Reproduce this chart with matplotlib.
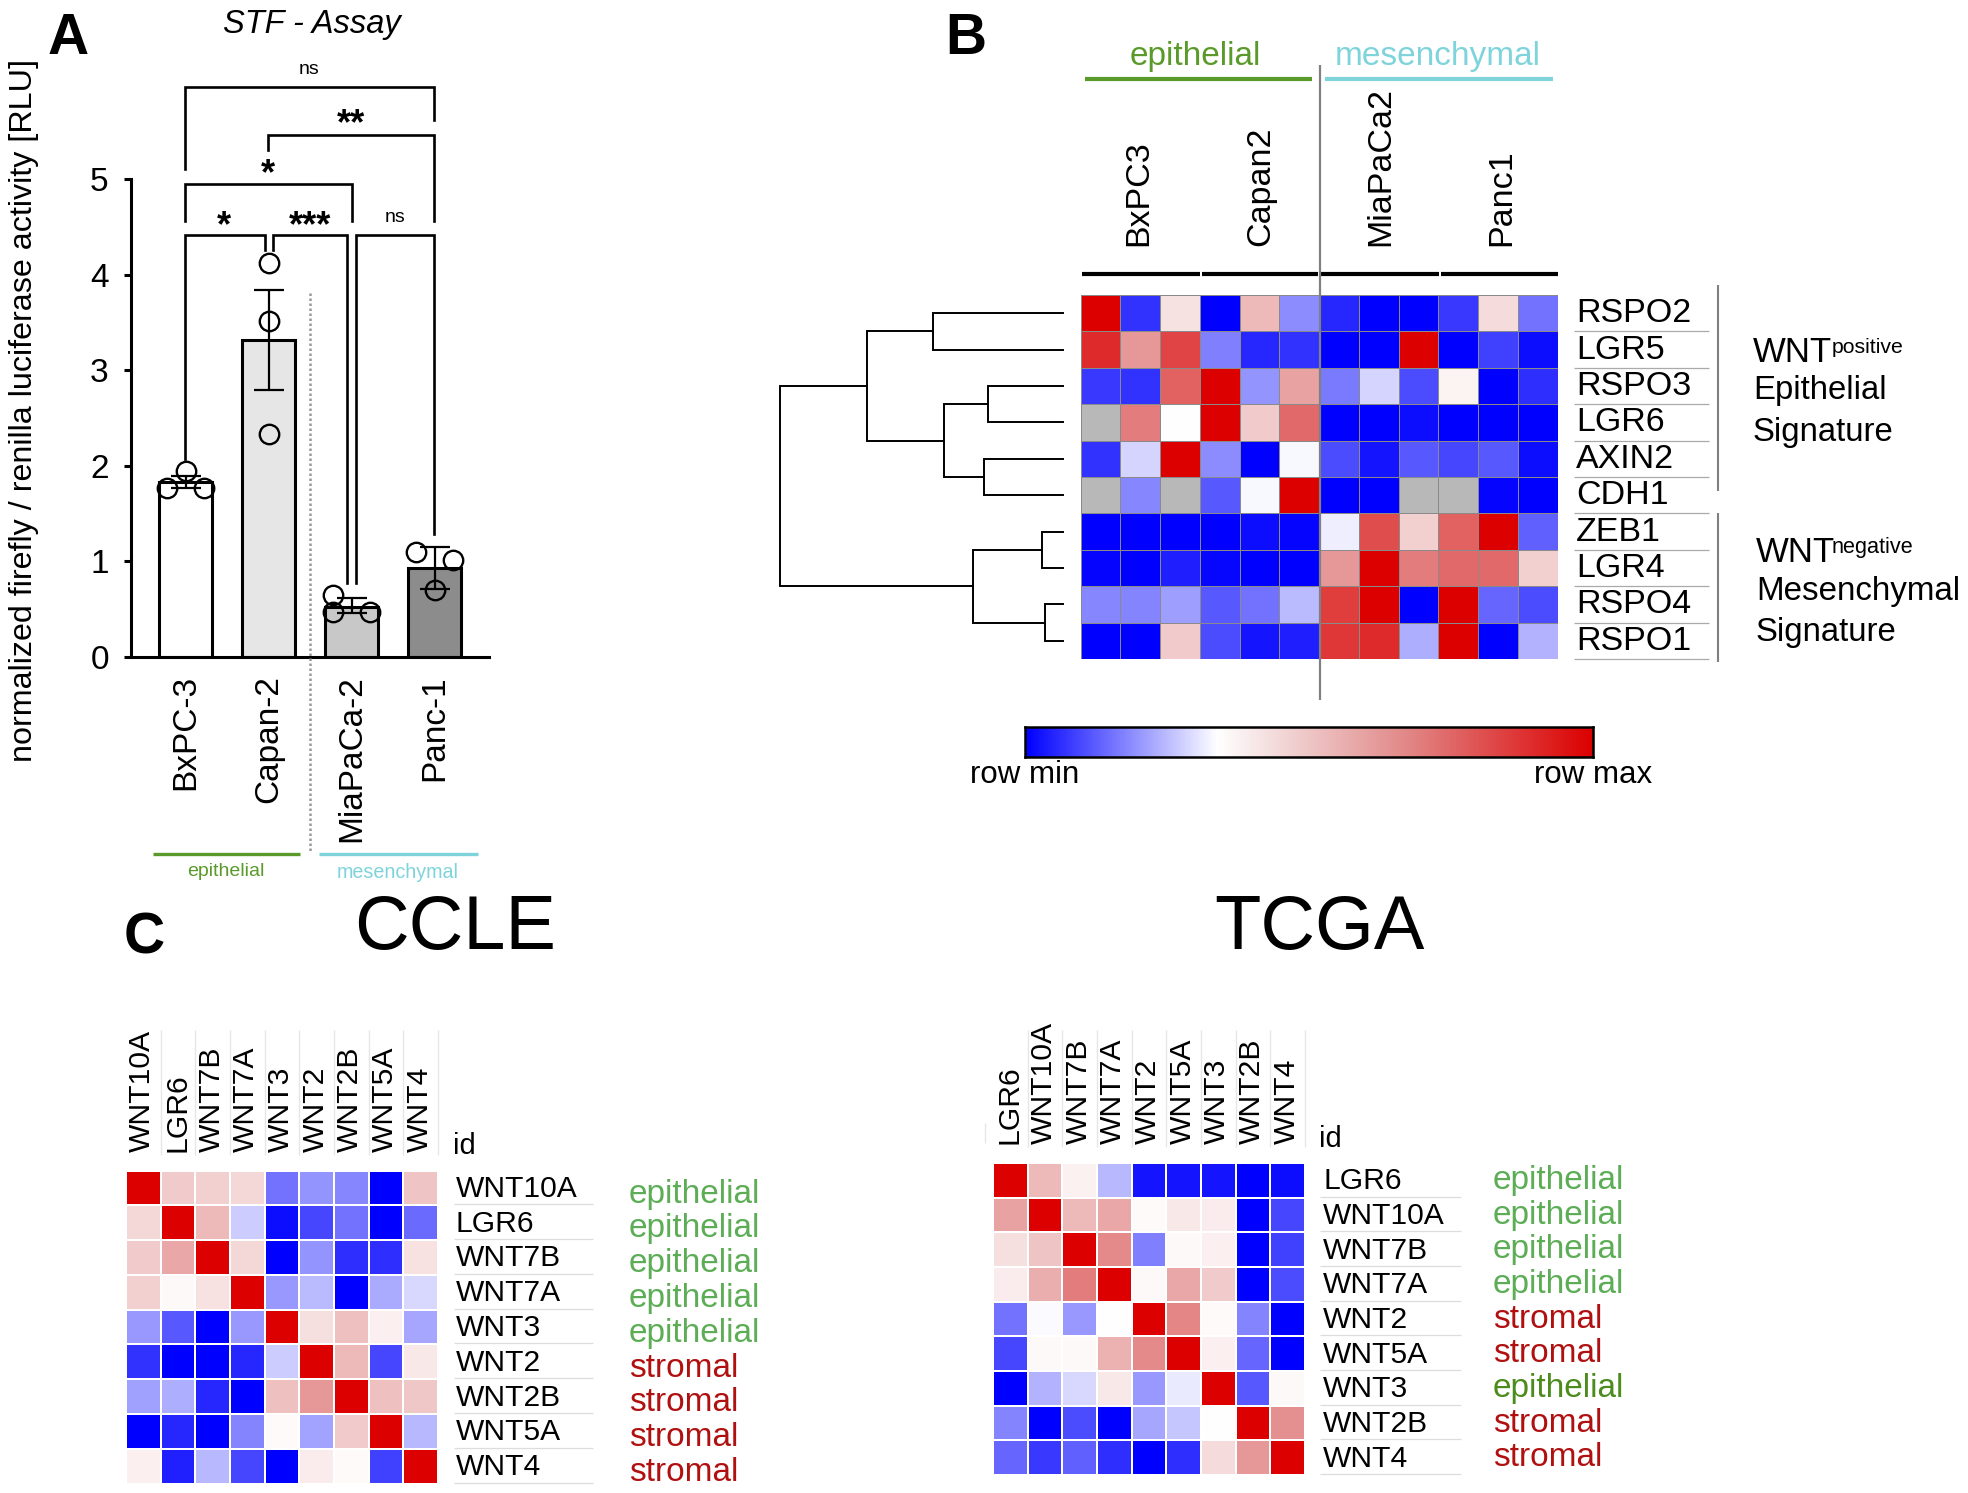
import numpy as np
import matplotlib
matplotlib.use('Agg')
import matplotlib.pyplot as plt
from matplotlib.colors import LinearSegmentedColormap

plt.rcParams['font.family'] = ['Liberation Sans', 'DejaVu Sans']

W, H = 1968, 1493

# Panel A values
cells = ['BxPC-3', 'Capan-2', 'MiaPaCa-2', 'Panc-1']
bar_means = [1.83, 3.32, 0.52, 0.93]
bar_low = [1.77, 2.79, 0.46, 0.71]
bar_high = [1.89, 3.84, 0.62, 1.15]
bar_colors = ['white', '#e6e6e6', '#c8c8c8', '#8c8c8c']
points_x = [[-0.22, 0, 0.22], [0, 0, 0], [-0.22, -0.22, 0.22], [-0.22, 0, 0.22]]
points_y = [[1.77, 1.95, 1.77], [4.12, 3.51, 2.33], [0.65, 0.47, 0.47], [1.10, 0.70, 1.01]]

# Panel B values, -1 is row min, 1 is row max
b_rows = ['RSPO2', 'LGR5', 'RSPO3', 'LGR6', 'AXIN2', 'CDH1', 'ZEB1', 'LGR4', 'RSPO4', 'RSPO1']
b_cols = ['BxPC3', 'Capan2', 'MiaPaCa2', 'Panc1']
nan = np.nan
b_vals = [
    [1, -.8, .12, -1, .3, -.45, -.85, -1, -1, -.78, .15, -.55],
    [.85, .45, .75, -.5, -.85, -.8, -1, -1, 1, -1, -.75, -.95],
    [-.78, -.8, .65, 1, -.42, .4, -.52, -.17, -.7, .05, -1, -.82],
    [nan, .55, 0, 1, .22, .62, -1, -1, -.95, -1, -1, -1],
    [-.8, -.17, 1, -.45, -1, -.03, -.7, -.92, -.65, -.72, -.65, -.95],
    [nan, -.47, nan, -.65, -.03, 1, -1, -1, nan, nan, -.98, -1],
    [-1, -1, -1, -1, -.95, -.98, -.07, .72, .2, .65, 1, -.62],
    [-.98, -1, -.88, -.97, -1, -1, .45, 1, .55, .62, .62, .2],
    [-.47, -.48, -.38, -.65, -.55, -.27, .78, 1, -1, 1, -.6, -.7],
    [-1, -1, .22, -.7, -.92, -.88, .8, .85, -.32, 1, -1, -.3],
]
# dendrogram merges: node a, node b, height. nodes 0-9 are the rows, 10+ are the merges
b_merges = [(0, 1, 130), (2, 3, 75), (4, 5, 79), (11, 12, 119), (10, 13, 196),
            (6, 7, 21), (8, 9, 18), (15, 16, 90), (14, 17, 283)]

# Panel C values
ccle_genes = ['WNT10A', 'LGR6', 'WNT7B', 'WNT7A', 'WNT3', 'WNT2', 'WNT2B', 'WNT5A', 'WNT4']
ccle_types = ['epithelial'] * 5 + ['stromal'] * 4
ccle_vals = [
    [1, .22, .2, .17, -.55, -.42, -.47, -1, .25],
    [.17, 1, .3, -.2, -.95, -.72, -.55, -1, -.58],
    [.22, .38, 1, .17, -1, -.42, -.82, -.82, .13],
    [.2, .03, .13, 1, -.4, -.27, -1, -.33, -.15],
    [-.4, -.65, -1, -.4, 1, .14, .27, .07, -.35],
    [-.8, -1, -1, -.85, -.2, 1, .3, -.72, .1],
    [-.37, -.32, -.85, -1, .27, .45, 1, .27, .24],
    [-1, -.85, -1, -.48, .02, -.36, .22, 1, -.28],
    [.07, -.87, -.28, -.72, -1, .08, .02, -.75, 1],
]
tcga_genes = ['LGR6', 'WNT10A', 'WNT7B', 'WNT7A', 'WNT2', 'WNT5A', 'WNT3', 'WNT2B', 'WNT4']
tcga_types = ['epithelial'] * 4 + ['stromal'] * 2 + ['epithelial'] + ['stromal'] * 2
tcga_vals = [
    [1, .3, .06, -.28, -.92, -.92, -.92, -1, -.95],
    [.4, 1, .3, .38, .02, .1, .08, -1, -.72],
    [.14, .25, 1, .5, -.5, .03, .07, -1, -.75],
    [.08, .35, .55, 1, .03, .38, .22, -1, -.7],
    [-.55, -.02, -.4, 0, 1, .52, .02, -.48, -1],
    [-.72, .03, .03, .33, .5, 1, .07, -.6, -1],
    [-1, -.3, -.15, .1, -.4, -.08, 1, -.65, .03],
    [-.48, -1, -.7, -1, -.35, -.22, 0, 1, .48],
    [-.6, -.78, -.62, -.82, -1, -.82, .15, .45, 1],
]

GREEN = '#5a9a2a'
CYAN = '#7fd4dc'
LIGHT_GREEN = '#5cad55'
DARK_RED = '#b01010'

# the pinks in the figure are a bit duller than a straight white to red ramp
heat = LinearSegmentedColormap.from_list('heat', [(0, '#0000ff'), (0.5, '#ffffff'), (0.6, '#f2d0d0'),
                                                  (0.75, '#e48c8c'), (1, '#dc0000')])
heat.set_bad('#b8b8b8')
heat_bar = LinearSegmentedColormap.from_list('heat_bar', [(0, '#0000ff'), (0.338, '#ffffff'), (0.47, '#f0d0d0'),
                                                          (0.67, '#e28888'), (1, '#dc0000')])

fig = plt.figure(figsize=(W / 100, H / 100), dpi=100)


def px_axes(x0, y0, x1, y1):
    return fig.add_axes([x0 / W, 1 - y1 / H, (x1 - x0) / W, (y1 - y0) / H])


# overlay in picture pixels for labels, brackets and rules
ov = fig.add_axes([0, 0, 1, 1], zorder=5)
ov.set_xlim(0, W)
ov.set_ylim(H, 0)
ov.axis('off')
ov.patch.set_alpha(0)


def rule(x0, y0, x1, y1, color='black', lw=1.0, **kw):
    ov.plot([x0, x1], [y0, y1], color=color, lw=lw, solid_capstyle='butt', **kw)


# ---- Panel A
ax = px_axes(131, 179, 489, 657)
xpos = np.arange(len(cells))
ax.bar(xpos, bar_means, 0.64, color=bar_colors, edgecolor='black', linewidth=2.2)
yerr = [np.array(bar_means) - np.array(bar_low), np.array(bar_high) - np.array(bar_means)]
ax.errorbar(xpos, bar_means, yerr=yerr, fmt='none', ecolor='black', elinewidth=1.6, capsize=10.5, capthick=1.6)
for i in xpos:
    ax.plot(i + np.array(points_x[i]), points_y[i], 'o', mfc='none', mec='black', ms=14, mew=1.7, clip_on=False)
ax.set_xlim(-0.657, 3.656)
ax.set_ylim(0, 5)
ax.spines['top'].set_visible(False)
ax.spines['right'].set_visible(False)
ax.spines['left'].set_linewidth(2.2)
ax.spines['bottom'].set_linewidth(2.2)
ax.set_yticks(range(6))
ax.tick_params(axis='y', labelsize=24, length=5, width=2.2, pad=11)
ax.set_xticks(xpos)
ax.set_xticklabels(cells, rotation=90, fontsize=24)
ax.tick_params(axis='x', length=0, pad=13)

brackets = [
    # x0, drop0, x1, drop1, y
    (185, 169, 434, 120, 87),
    (268, 150, 434, 221, 135),
    (185, 221, 352, 221, 184),
    (185, 459, 265, 250, 235),
    (273, 250, 347, 583, 235),
    (356, 583, 434, 534, 235),
]
for x0, d0, x1, d1, y in brackets:
    ov.plot([x0, x0, x1, x1], [d0, y, y, d1], color='black', lw=1.9, solid_joinstyle='miter')

for x, y, s in [(351, 125, '**'), (268, 175, '*'), (224, 227, '*'), (310, 227, '***')]:
    ov.text(x, y, s, ha='center', va='center', fontsize=26, fontweight='bold')
for x, y, s in [(309, 70, 'ns'), (395, 217, 'ns')]:
    ov.text(x, y, s, ha='center', va='center', fontsize=14)

rule(310, 293, 310, 852, color='#999999', lw=1.8, ls=(0, (1, 1)))
rule(153, 853.5, 300, 853.5, color=GREEN, lw=2.4)
rule(319, 853.5, 478, 853.5, color=CYAN, lw=2.4)
ov.text(226, 872, 'epithelial', color=GREEN, ha='center', va='center', fontsize=14)
ov.text(398, 872, 'mesenchymal', color=CYAN, ha='center', va='center', fontsize=14.2)
ov.text(312, 24, 'STF - Assay', style='italic', ha='center', va='center', fontsize=23.5)
ov.text(24, 410, 'normalized firefly / renilla luciferase activity [RLU]', rotation=90,
        ha='center', va='center', fontsize=23.2)

ov.text(68, 39, 'A', fontweight='bold', ha='center', va='center', fontsize=41)
ov.text(966, 39, 'B', fontweight='bold', ha='center', va='center', fontsize=41)
ov.text(144, 938, 'C', fontweight='bold', ha='center', va='center', fontsize=41)

# ---- Panel B heatmap
hb = px_axes(1080.5, 295, 1557.5, 659)
hb.pcolormesh(np.ma.masked_invalid(np.array(b_vals)), cmap=heat, vmin=-1, vmax=1,
              edgecolors='#8a8a8a', linewidth=0.7)
hb.set_ylim(len(b_rows), 0)
hb.axis('off')

# dendrogram from the merge list
dn = px_axes(780, 295, 1063, 659)
nodes = {i: (i + 0.5, 0) for i in range(len(b_rows))}
for k, (a, b, h) in enumerate(b_merges):
    ya, ha_ = nodes[a]
    yb, hb_ = nodes[b]
    dn.plot([ha_, h, h, hb_], [ya, ya, yb, yb], color='black', lw=1.4, solid_joinstyle='miter', clip_on=False)
    nodes[len(b_rows) + k] = ((ya + yb) / 2, h)
dn.set_xlim(283, 0)
dn.set_ylim(len(b_rows), 0)
dn.axis('off')

rule(1084.5, 79, 1312, 79, color=GREEN, lw=3)
rule(1325, 79, 1553, 79, color=CYAN, lw=3)
ov.text(1195, 57, 'epithelial', color=GREEN, ha='center', va='center', fontsize=24)
ov.text(1438, 57, 'mesenchymal', color=CYAN, ha='center', va='center', fontsize=24)
for (x0, x1), cx, s in zip([(1081.5, 1199.5), (1201.5, 1318), (1320.5, 1438.5), (1440.5, 1558)],
                           [1139, 1261, 1380.5, 1502], b_cols):
    rule(x0, 274, x1, 274, lw=3)
    ov.text(cx, 246, s, rotation=90, ha='center', va='bottom', fontsize=24.5)
rule(1320, 65, 1320, 700, color='#808080', lw=1.6)

row_h = 364 / len(b_rows)
for i, s in enumerate(b_rows):
    ov.text(1576, 295 + row_h * (i + 0.5) + 0.5, s, ha='left', va='center', fontsize=24.5)
    rule(1574, 295 + row_h * (i + 1), 1709, 295 + row_h * (i + 1), color='#aaaaaa', lw=0.9)
rule(1717.5, 285, 1717.5, 491, color='#808080', lw=1.5)
rule(1717.5, 513, 1717.5, 662, color='#808080', lw=1.5)

ov.text(1753, 362, 'WNT', va='baseline', fontsize=25)
ov.text(1832, 353, 'positive', va='baseline', fontsize=15.3)
ov.text(1753, 399, 'Epithelial', va='baseline', fontsize=23.7)
ov.text(1753, 441, 'Signature', va='baseline', fontsize=23.7)
ov.text(1756, 562, 'WNT', va='baseline', fontsize=25)
ov.text(1832, 553, 'negative', va='baseline', fontsize=15.6)
ov.text(1756, 600, 'Mesenchymal', va='baseline', fontsize=23.9)
ov.text(1756, 641, 'Signature', va='baseline', fontsize=23.7)

# colour bar
cb = px_axes(1025, 727, 1593, 757)
cb.imshow(np.linspace(0, 1, 256).reshape(1, -1), aspect='auto', cmap=heat_bar, vmin=0, vmax=1)
cb.set_xticks([])
cb.set_yticks([])
for sp in cb.spines.values():
    sp.set_linewidth(1.8)
ov.text(1025, 783, 'row min', ha='center', va='baseline', fontsize=22.5)
ov.text(1593, 783, 'row max', ha='center', va='baseline', fontsize=22.5)

ov.text(455, 929, 'CCLE', ha='center', va='center', fontsize=54.5)
ov.text(1319, 929, 'TCGA', ha='center', va='center', fontsize=54.5)


# ---- Panel C
def small_heat(vals, genes, types, x0, y0, x1, y1, lab_bottom, lab_top, text_x, rule_x, type_x, base0, id_base, type_colors):
    a = px_axes(x0, y0, x1, y1)
    a.pcolormesh(np.array(vals), cmap=heat, vmin=-1, vmax=1, edgecolors='white', linewidth=1.3)
    a.set_ylim(len(genes), 0)
    a.axis('off')
    cw = (x1 - x0) / len(genes)
    ch = (y1 - y0) / len(genes)
    for i, g in enumerate(genes):
        ov.text(x0 + cw * (i + 0.5) - 1, lab_bottom, g, rotation=90, ha='center', va='bottom', fontsize=21.7)
        rule(x0 + cw * (i + 1), lab_top, x0 + cw * (i + 1), lab_bottom + 3, color='#e6e6e6', lw=1.0)
        ov.text(text_x - 1, y0 + ch * (i + 0.5) + 1, g, ha='left', va='center', fontsize=21.6)
        rule(rule_x[0], y0 + ch * (i + 1) - 1, rule_x[1], y0 + ch * (i + 1) - 1, color='#dddddd', lw=0.9)
        ov.text(type_x, base0 + ch * i, types[i], ha='left', va='baseline', fontsize=24, color=type_colors[i])
    ov.text(rule_x[0] - 1, id_base, 'id', ha='left', va='baseline', fontsize=21)


ccle_colors = [LIGHT_GREEN if t == 'epithelial' else DARK_RED for t in ccle_types]
tcga_colors = [LIGHT_GREEN if t == 'epithelial' else DARK_RED for t in tcga_types]
tcga_colors[6] = '#4c8c1c'

small_heat(ccle_vals, ccle_genes, ccle_types, 126, 1170.5, 438, 1483.5, 1152, 1030, 457, (454, 593), 629, 1202.7, 1154, ccle_colors)
small_heat(tcga_vals, tcga_genes, tcga_types, 993, 1163, 1305, 1475, 1144, 1030, 1324, (1320, 1461), 1493, 1189, 1147, tcga_colors)
rule(985, 1123, 985, 1143, color='#e6e6e6', lw=1.0)

fig.savefig('out.png', dpi=100)
